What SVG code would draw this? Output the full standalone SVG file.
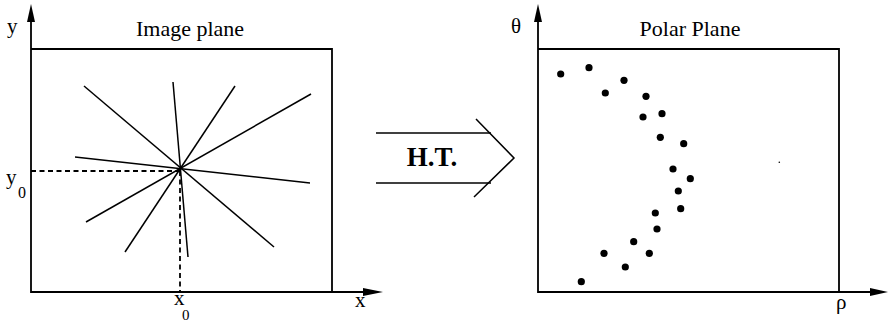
<svg xmlns="http://www.w3.org/2000/svg" width="888" height="322" viewBox="0 0 888 322">
<style>
.ax{stroke:#000;stroke-width:1.8;fill:none}
.ln{stroke:#000;stroke-width:1.5;fill:none}
.ds{stroke:#000;stroke-width:1.8;fill:none;stroke-dasharray:5,3.5}
text{font-family:"Times New Roman","Liberation Serif",Tinos,"DejaVu Serif",serif;fill:#000}
.dot{fill:#000}
</style>
<rect width="888" height="322" fill="#fff"/>
<g id="image-plane">
  <path class="ax" d="M31,20 V292 H365"/>
  <polygon points="31,4 27,22 35,22"/>
  <polygon points="383,292 363,288 363,296"/>
  <path class="ax" d="M31,49 H332 V292"/>
  <text x="190" y="36" font-size="22" text-anchor="middle">Image plane</text>
  <text x="7" y="33" font-size="21">y</text>
  <text x="355" y="307" font-size="21">x</text>
  <g>
    <line class="ln" x1="84" y1="86" x2="274" y2="247"/>
    <line class="ln" x1="173" y1="82" x2="188" y2="257"/>
    <line class="ln" x1="235" y1="86" x2="125" y2="252"/>
    <line class="ln" x1="311" y1="94" x2="86" y2="222"/>
    <line class="ln" x1="75" y1="157" x2="310" y2="183"/>
  </g>
  <path class="ds" d="M31,171 H180"/>
  <path class="ds" d="M180,171 V292"/>
  <text x="6" y="184" font-size="21">y</text>
  <text x="18" y="198" font-size="16">0</text>
  <text x="174" y="305" font-size="21">x</text>
  <text x="182" y="320" font-size="15">0</text>
</g>
<g id="ht-arrow">
  <line class="ln" x1="376" y1="133" x2="491" y2="133"/>
  <line class="ln" x1="376" y1="183" x2="491" y2="183"/>
  <polyline class="ln" points="476,119 514,158 474,197"/>
  <text x="432" y="166" font-size="27" font-weight="bold" text-anchor="middle">H.T.</text>
</g>
<g id="polar-plane">
  <path class="ax" d="M538,20 V292 H870"/>
  <polygon points="538,4 534,22 542,22"/>
  <polygon points="888,292 870,288 870,296"/>
  <path class="ax" d="M538,49 H839 V292"/>
  <text x="690" y="36" font-size="22" text-anchor="middle">Polar Plane</text>
  <text x="511" y="33" font-size="21">θ</text>
  <text x="836" y="309" font-size="21">ρ</text>
  <g class="dot">
    <circle cx="560.7" cy="74" r="3.6"/>
    <circle cx="589" cy="67.7" r="3.6"/>
    <circle cx="624" cy="80.3" r="3.6"/>
    <circle cx="605.3" cy="93" r="3.6"/>
    <circle cx="646" cy="96.3" r="3.6"/>
    <circle cx="643" cy="117" r="3.6"/>
    <circle cx="662" cy="113.7" r="3.6"/>
    <circle cx="660.3" cy="137.3" r="3.6"/>
    <circle cx="683.7" cy="143.7" r="3.6"/>
    <circle cx="673" cy="169" r="3.6"/>
    <circle cx="690.3" cy="178.7" r="3.6"/>
    <circle cx="678.3" cy="191" r="3.6"/>
    <circle cx="680.7" cy="208.7" r="3.6"/>
    <circle cx="655.3" cy="213" r="3.6"/>
    <circle cx="657" cy="229" r="3.6"/>
    <circle cx="633.7" cy="241.7" r="3.6"/>
    <circle cx="604" cy="253.3" r="3.6"/>
    <circle cx="649.3" cy="253.3" r="3.6"/>
    <circle cx="625.3" cy="267" r="3.6"/>
    <circle cx="581.3" cy="281.7" r="3.6"/>
    <circle cx="779.3" cy="162.3" r="0.8"/>
  </g>
</g>
</svg>
